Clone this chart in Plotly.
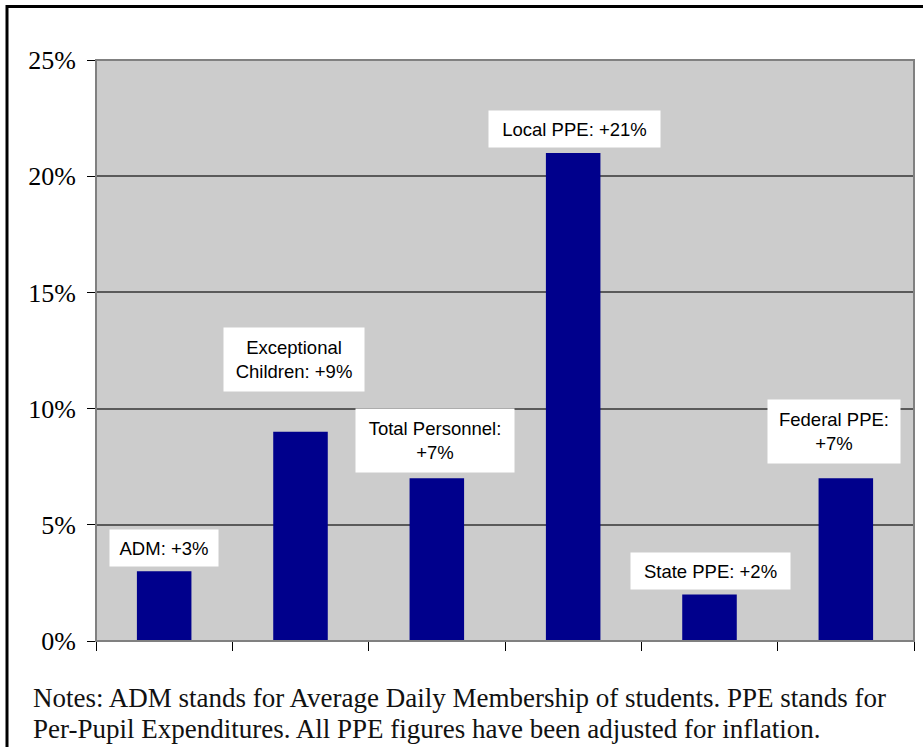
import plotly.graph_objects as go

categories = ["ADM", "Exceptional Children", "Total Personnel", "Local PPE", "State PPE", "Federal PPE"]
values = [3, 9, 7, 21, 2, 7]
label_texts = ["ADM: +3%", "Exceptional<br>Children: +9%", "Total Personnel:<br>+7%",
               "Local PPE: +21%", "State PPE: +2%", "Federal PPE:<br>+7%"]
y_ticks = [0, 5, 10, 15, 20, 25]
y_tick_labels = ["0%", "5%", "10%", "15%", "20%", "25%"]
notes_lines = ["Notes: ADM stands for Average Daily Membership of students. PPE stands for",
               "Per-Pupil Expenditures. All PPE figures have been adjusted for inflation."]

# label placement (style): bottom of label box in data units, x offset px, box sizes
label_bottom = [3.2, 10.7, 7.25, 21.2, 2.2, 7.6]
label_xshift = [0, -7, -2, 1, 1, -12]
label_w = [108, 140, 158, 171, 159, 132]
label_h = [36, 63, 63, 36, 36, 63]

W, H = 923, 747
L, R, T, B = 96, 9, 60, 106
pw, ph = W - L - R, H - T - B

fig = go.Figure()
fig.add_trace(go.Bar(x=categories, y=values, marker=dict(color="#00008C", line=dict(width=0)),
                     width=0.4, hoverinfo="skip"))

for cat, txt, yb, xs, w, h in zip(categories, label_texts, label_bottom, label_xshift, label_w, label_h):
    fig.add_annotation(x=cat, y=yb, xref="x", yref="y", text=txt, showarrow=False,
                       yanchor="bottom", xanchor="center", xshift=xs,
                       bgcolor="white", borderpad=0, width=w, height=h, align="center",
                       font=dict(family="Liberation Sans, Arial", size=18.5, color="black"))

for i, line in enumerate(notes_lines):
    fig.add_annotation(x=(31 - L) / pw, y=(H - B - (698 + 31 * i)) / ph, xref="paper", yref="paper",
                       text=line, showarrow=False, xanchor="left", yanchor="middle", align="left",
                       font=dict(family="Liberation Serif, Times New Roman", size=27, color="#111"))

# plot-area frame
fig.add_shape(type="rect", xref="paper", yref="paper", x0=0, x1=1, y0=0, y1=1,
              line=dict(color="#808080", width=2), layer="above")
# outer figure border
fig.add_shape(type="rect", xref="paper", yref="paper",
              x0=(7 - L) / pw, x1=(W + 20 - L) / pw, y0=(H - B - (H + 20)) / ph,
              y1=(H - B - 6.5) / ph, line=dict(color="black", width=3))

fig.update_layout(
    width=W, height=H, margin=dict(l=L, r=R, t=T, b=B),
    paper_bgcolor="white", plot_bgcolor="#CCCCCC", showlegend=False, bargap=0.6,
    xaxis=dict(type="category", showticklabels=False, ticks="outside", tickson="boundaries",
               ticklen=9, tickcolor="black", tickwidth=1, showline=True, linecolor="black",
               linewidth=1, showgrid=False, range=[-0.5, 5.5], fixedrange=True),
    yaxis=dict(range=[0, 25], tickvals=y_ticks, ticktext=y_tick_labels, ticks="outside",
               ticklen=8, tickcolor="black", showline=True, linecolor="#555", linewidth=1,
               showgrid=True, gridcolor="#5a5a5a", gridwidth=1.5, zeroline=False,
               ticklabelstandoff=6,
               tickfont=dict(family="Liberation Serif, Times New Roman", size=26, color="black")),
)

fig.write_html("out.html", config={"displayModeBar": False},
               post_script="document.body.style.margin='0';document.body.style.overflow='hidden';")
